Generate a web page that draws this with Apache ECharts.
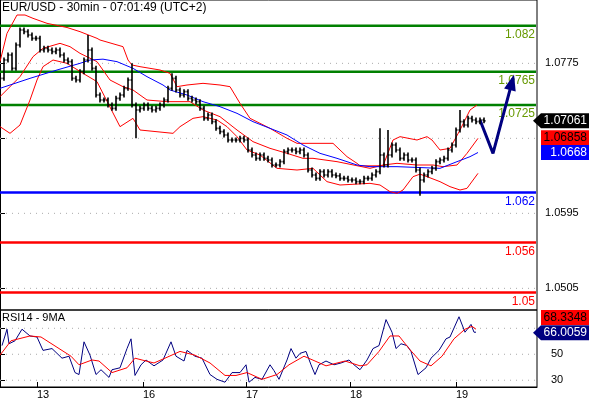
<!DOCTYPE html>
<html>
<head>
<meta charset="UTF-8">
<title>EUR/USD</title>
<script src="https://cdn.jsdelivr.net/npm/echarts@6/dist/echarts.min.js"></script>
<style>
    html, body { margin: 0; padding: 0; background: #fff; }
    #main { width: 589px; height: 400px; }
</style>
</head>
<body>
<div id="main"></div>
<script>
    // closes, one bar per slot (x axis unit = slot)
    var closes = [
        1.0757, 1.0779, 1.0785, 1.0769, 1.0797, 1.0815, 1.0813, 1.0809, 1.0805, 1.0805,
        1.0791, 1.0793, 1.0791, 1.0789, 1.0791, 1.0785, 1.0779, 1.0777, 1.0757, 1.0755,
        1.0765, 1.0779, 1.0791, 1.0769, 1.0737, 1.0731, 1.0731, 1.0725, 1.0721, 1.0733,
        1.0737, 1.0745, 1.0755, 1.0725, 1.0719, 1.0721, 1.0725, 1.0721, 1.0719, 1.0721,
        1.0725, 1.0731, 1.0745, 1.0757, 1.0743, 1.0737, 1.0741, 1.0733, 1.0731, 1.0729,
        1.0721, 1.0709, 1.0713, 1.0705, 1.0697, 1.0693, 1.0689, 1.0683, 1.0683, 1.0683,
        1.0685, 1.0683, 1.0671, 1.0665, 1.0661, 1.0665, 1.0661, 1.0659, 1.0653, 1.0653,
        1.0657, 1.0669, 1.0671, 1.0671, 1.0669, 1.0671, 1.0665, 1.0647, 1.0641, 1.0637,
        1.0645, 1.0641, 1.0645, 1.0641, 1.0640, 1.0637, 1.0637, 1.0635, 1.0635, 1.0633,
        1.0633, 1.0637, 1.0637, 1.0641, 1.0645, 1.0665, 1.0653, 1.0665, 1.0677, 1.0671,
        1.0661, 1.0665, 1.0659, 1.0659, 1.0647, 1.0635, 1.0641, 1.0645, 1.0649, 1.0657,
        1.0659, 1.0661, 1.0671, 1.0677, 1.0695, 1.0705, 1.0701, 1.0709, 1.0707, 1.0705,
        1.0707, 1.0706
    ];
    var wick = 0.0003;
    var spikes = [[22, 'h', 1.0809], [33, 'h', 1.0775], [34, 'l', 1.0685], [43, 'h', 1.0763],
                  [95, 'h', 1.0697], [97, 'h', 1.0695], [105, 'l', 1.0616], [115, 'h', 1.0719]];

    // bollinger bands and average, [slot, price]
    var bandUpper = [[0, 1.0777], [1.75, 1.0811], [4.25, 1.0833], [6.25, 1.0833], [8.25, 1.0829], [11.75, 1.0823],
        [16.75, 1.0818], [20, 1.0813], [24.25, 1.0805], [25, 1.0803], [30.75, 1.0795], [32, 1.0779], [33, 1.0773],
        [35, 1.0771], [40, 1.0767], [42.5, 1.0763], [44.25, 1.0747], [46.75, 1.0749], [50.75, 1.0751], [55, 1.0749],
        [57.5, 1.0747], [60, 1.0727], [62.5, 1.0709], [67.5, 1.0697], [71.75, 1.0685], [74.25, 1.0679], [79.25, 1.0679],
        [83.25, 1.0679], [86.75, 1.0663], [89.25, 1.0655], [90, 1.0652], [95.75, 1.0652], [98.25, 1.0683], [100, 1.0687],
        [104.25, 1.0683], [106.75, 1.0687], [108, 1.0683], [110, 1.0671], [112.5, 1.0673], [115, 1.0695], [117.5, 1.0719],
        [119.25, 1.0725]];
    var bandMiddle = [[0, 1.0735], [5, 1.0759], [8.25, 1.0783], [10.75, 1.0793], [15, 1.0799], [17.5, 1.0795],
        [20, 1.0787], [24.25, 1.0777], [27.5, 1.0755], [30.75, 1.0747], [33.25, 1.0743], [36.75, 1.0731], [41.75, 1.0729],
        [47.5, 1.0729], [50.75, 1.0719], [55, 1.0711], [59.25, 1.0695], [63.25, 1.0681], [67.5, 1.0673], [71.75, 1.0667],
        [75.75, 1.0661], [78.25, 1.0661], [84.25, 1.0657], [92.5, 1.0649], [95.75, 1.0653], [99.25, 1.0655],
        [104.25, 1.0653], [108.25, 1.0653], [110.75, 1.0651], [114.25, 1.0653], [116.75, 1.0667], [119.5, 1.0685]];
    var bandLower = [[0, 1.0699], [2.5, 1.0691], [5, 1.0701], [7.5, 1.0731], [9.25, 1.0755], [10.75, 1.0771],
        [13.25, 1.0779], [16.75, 1.0775], [20.75, 1.0763], [24.25, 1.0753], [30, 1.0699], [33.25, 1.0709], [35, 1.0695],
        [43.25, 1.0691], [45, 1.0699], [48.25, 1.0709], [50.75, 1.0711], [54.25, 1.0707], [56.75, 1.0699],
        [59.25, 1.0687], [61.75, 1.0671], [65, 1.0665], [69.25, 1.0649], [74.25, 1.0647], [78.25, 1.0649],
        [81.75, 1.0633], [85, 1.0629], [92.5, 1.0631], [95, 1.0629], [97.5, 1.0621], [99.25, 1.0619], [100.75, 1.0623],
        [103.25, 1.0639], [105, 1.0642], [106.75, 1.0639], [110, 1.0633], [112.5, 1.0627], [115, 1.0623],
        [116.75, 1.0625], [119.5, 1.0643]];
    var maLong = [[0, 1.0745], [7.5, 1.0757], [14.25, 1.0767], [20, 1.0775], [22.5, 1.0779], [25.75, 1.0780],
        [29.25, 1.0777], [33.25, 1.0769], [36.75, 1.0759], [40.75, 1.0749], [42.5, 1.0743], [46.75, 1.0737],
        [50.75, 1.0729], [55, 1.0723], [59.25, 1.0715], [63.25, 1.0705], [67.5, 1.0697], [71.75, 1.0689],
        [75.75, 1.0677], [80, 1.0667], [84.25, 1.0661], [89.25, 1.0653], [92.5, 1.0651], [99.25, 1.0651],
        [110, 1.0649], [114.25, 1.0657], [117.5, 1.0663], [119.5, 1.0668]];
    var forecast = [[120, 1.0707], [123.25, 1.0667], [128.25, 1.0757]];

    var levelValues = [1.082, 1.0765, 1.0725, 1.062, 1.056, 1.05];
    var levelLabels = ['1.082', '1.0765', '1.0725', '1.062', '1.056', '1.05'];
    var levelColors = ['#008000', '#008000', '#008000', '#0000ff', '#ff0000', '#ff0000'];
    var labelColors = ['#669900', '#669900', '#669900', '#0000ff', '#ff0000', '#ff0000'];
    var priceTicks = [1.0505, 1.0595, 1.0685, 1.0775];
    var priceLabels = [1.0505, 1.0595, 1.0775];

    // RSI14 and its 9 period average, [slot, value]
    var rsi = [[0.5, 56.7], [1.75, 69.3], [2.25, 58.1], [3.75, 60.4], [5.5, 69.3], [7.5, 64.1], [9.25, 63.3],
        [10.75, 53], [13, 54.4], [15.5, 47], [17.25, 48.5], [18.75, 35.9], [19.75, 34.4], [21, 59.6], [22.5, 49.3],
        [24, 34.4], [25.25, 38.1], [27.25, 32.2], [28, 38.1], [30, 39.6], [31.75, 54.4], [32.75, 61.9], [33.75, 33.7],
        [35.25, 41.9], [36.5, 45.6], [38.5, 41.1], [40.75, 45.6], [42.75, 59.6], [44, 48.5], [46, 44.8], [46.75, 53],
        [48.75, 48.5], [50.5, 47], [52.5, 34.4], [54.25, 30.7], [56.25, 28.5], [58, 35.9], [60, 35.9], [61.5, 41.9],
        [62.25, 28.5], [63.75, 32.2], [65.5, 30.7], [67.5, 41.9], [68.5, 37.4], [69.75, 30.7], [71.75, 45.6],
        [72.75, 54.4], [74, 47], [75, 50.7], [76.5, 52.2], [77.75, 41.9], [78.75, 34.4], [79.75, 41.9], [81.5, 44.8],
        [83.5, 41.9], [85.25, 43.3], [87.25, 45.6], [88.5, 41.9], [90, 38.1], [91.75, 45.6], [93.25, 54.4],
        [94.75, 56.7], [96.5, 76.7], [98, 67], [99, 54.4], [100.25, 58.1], [101.75, 56.7], [102.75, 52.2],
        [104.5, 34.4], [106.5, 39.6], [107.75, 47], [109.75, 53], [111.5, 61.9], [112.5, 63.3], [114.75, 78.9],
        [116.25, 67], [117.75, 73], [118.5, 67], [119, 67]];
    var rsiMa = [[0, 49.3], [2.75, 60.4], [7.5, 64.1], [10.25, 63.3], [14, 55.9], [17.75, 48.5], [19.75, 41.9],
        [23, 45.6], [24.75, 44.8], [28, 35.9], [31.75, 39.6], [33.75, 47], [36.5, 44.8], [38.5, 43.3], [41.25, 47],
        [45, 52.2], [48.75, 49.3], [52.5, 43.3], [56.25, 33.7], [59, 33.7], [61.75, 35.9], [65.5, 30.7], [69.25, 34.4],
        [72.25, 41.9], [76, 48.5], [78.75, 44.8], [81.5, 41.1], [86.25, 44.8], [90, 41.1], [91.75, 41.9], [94.75, 52.2],
        [97.5, 64.1], [99.75, 64.1], [102.25, 54.4], [105, 44.8], [107.75, 41.1], [110.5, 48.5], [113.5, 61.9],
        [116.25, 69.3], [118, 71.5], [119, 69.3]];
    var rsiTicks = [30, 50, 70];
    var rsiLabels = [30, 50];

    var days = ['13', '16', '17', '18', '19'];
    var dayPos = [9.25, 35.75, 61.5, 87.5, 114];

    var bars = closes.map(function (c, i) {
        var o = i > 0 ? closes[i - 1] : c;
        var h = Math.max(o, c) + wick, l = Math.min(o, c) - wick;
        spikes.forEach(function (s) {
            if (s[0] === i) { if (s[1] === 'h') h = s[2]; else l = s[2]; }
        });
        return [i, o, h, l, c];
    });

    var chart = echarts.init(document.getElementById('main'));
    var font = 'Liberation Sans, Arial, sans-serif';

    function line(data, color, xi, w) {
        return {
            type: 'line', data: data, xAxisIndex: xi, yAxisIndex: xi, symbol: 'none',
            lineStyle: { color: color, width: w || 1 }, silent: true, z: 3
        };
    }

    var option = {
        animation: false,
        grid: [
            { left: 0, right: 52, top: 0, height: 310, show: true, borderColor: '#000', borderWidth: 1 },
            { left: 0, right: 52, top: 310, height: 80, show: true, borderColor: '#000', borderWidth: 1 }
        ],
        xAxis: [
            { type: 'value', gridIndex: 0, min: 0, max: 134.25, show: false },
            { type: 'value', gridIndex: 1, min: 0, max: 134.25, splitLine: { show: false },
              axisLine: { lineStyle: { color: '#000' } },
              axisTick: { customValues: dayPos, inside: true, length: 5, lineStyle: { color: '#000' } },
              axisLabel: { customValues: dayPos, formatter: function (v) { return days[dayPos.indexOf(v)]; },
                           color: '#000', fontSize: 11, fontFamily: font, margin: 2, align: 'left' } }
        ],
        yAxis: [
            { type: 'value', gridIndex: 0, position: 'right', min: 1.0479, max: 1.0851, splitLine: { show: false },
              axisLine: { show: true, lineStyle: { color: '#000' } },
              axisTick: { customValues: priceTicks, length: 5, lineStyle: { color: '#000' } },
              axisLabel: { customValues: priceLabels, formatter: function (v) { return v.toFixed(4); },
                           color: '#000', fontSize: 11, fontFamily: font, margin: 8 } },
            { type: 'value', gridIndex: 1, position: 'right', min: 24.8, max: 84.1, splitLine: { show: false },
              axisLine: { show: true, lineStyle: { color: '#000' } },
              axisTick: { customValues: rsiTicks, length: 5, lineStyle: { color: '#000' } },
              axisLabel: { customValues: rsiLabels, color: '#000', fontSize: 11, fontFamily: font, margin: 14 } }
        ],
        series: [
            line(bandUpper, '#ff0000', 0),
            line(bandMiddle, '#ff0000', 0),
            line(bandLower, '#ff0000', 0),
            line(maLong, '#0000ff', 0),
            {
                type: 'custom', xAxisIndex: 0, yAxisIndex: 0, data: bars, z: 4,
                encode: { x: 0, y: [1, 2, 3, 4] },
                renderItem: function (params, api) {
                    var x = api.value(0);
                    var po = api.coord([x, api.value(1)]), ph = api.coord([x, api.value(2)]);
                    var pl = api.coord([x, api.value(3)]), pc = api.coord([x, api.value(4)]);
                    var st = { stroke: '#000', lineWidth: 1.6 };
                    return { type: 'group', children: [
                        { type: 'line', shape: { x1: ph[0], y1: ph[1], x2: pl[0], y2: pl[1] }, style: st },
                        { type: 'line', shape: { x1: po[0] - 1.5, y1: po[1], x2: po[0], y2: po[1] }, style: st },
                        { type: 'line', shape: { x1: pc[0], y1: pc[1], x2: pc[0] + 1.5, y2: pc[1] }, style: st }
                    ] };
                }
            },
            line(forecast, '#000080', 0, 3),
            line(rsi, '#000080', 1),
            line(rsiMa, '#ff0000', 1)
        ]
    };
    chart.setOption(option);

    var g = [];
    // dotted grid at the tick values
    function dots(gi, values) {
        values.forEach(function (v) {
            var p0 = chart.convertToPixel({ gridIndex: gi }, [0, v]);
            var p1 = chart.convertToPixel({ gridIndex: gi }, [134.25, v]);
            g.push({ type: 'line', shape: { x1: p0[0], y1: p0[1], x2: p1[0], y2: p1[1] },
                     style: { stroke: '#aaa', lineWidth: 1, lineDash: [1, 5] }, z: 1 });
        });
    }
    dots(0, priceTicks);
    dots(1, rsiTicks);

    // horizontal support / resistance levels
    levelValues.forEach(function (v, i) {
        var p0 = chart.convertToPixel({ gridIndex: 0 }, [0, v]);
        var p1 = chart.convertToPixel({ gridIndex: 0 }, [134.25, v]);
        g.push({ type: 'line', shape: { x1: p0[0], y1: p0[1], x2: p1[0] - 1, y2: p1[1] },
                 style: { stroke: levelColors[i], lineWidth: 2.5 }, z: 2 });
        g.push({ type: 'text', x: p1[0] - 2, y: p1[1] + 3,
                 style: { text: levelLabels[i], fill: labelColors[i], font: '12px ' + font, align: 'right',
                          verticalAlign: 'top' }, z: 2 });
    });

    // arrow head at the end of the forecast line
    var a = chart.convertToPixel({ gridIndex: 0 }, forecast[1]);
    var b = chart.convertToPixel({ gridIndex: 0 }, forecast[2]);
    var ang = Math.atan2(b[1] - a[1], b[0] - a[0]);
    function rot(dx, dy) {
        return [b[0] + dx * Math.cos(ang) - dy * Math.sin(ang), b[1] + dx * Math.sin(ang) + dy * Math.cos(ang)];
    }
    g.push({ type: 'polygon', shape: { points: [rot(4, 0), rot(-12, -6), rot(-12, 6)] },
             style: { fill: '#000080' }, z: 6 });

    function badge(gi, value, text, bg, fg, arrow) {
        var p = chart.convertToPixel({ gridIndex: gi }, [134.25, value]);
        var items = [{
            type: 'rect', shape: { x: 541, y: p[1] - 7.5, width: 48, height: 15 }, style: { fill: bg }, z: 10
        }, {
            type: 'text', x: 587, y: p[1], style: { text: text, fill: fg, font: '12px ' + font,
                align: 'right', verticalAlign: 'middle' }, z: 11
        }];
        if (arrow) {
            items.push({ type: 'polygon', shape: { points: [[533, p[1]], [541, p[1] - 7.5], [541, p[1] + 7.5]] },
                         style: { fill: bg }, z: 10 });
        }
        return items;
    }

    g.push({ type: 'text', left: 2, top: 2, style: { text: 'EUR/USD - 30min - 07:01:49 (UTC+2)', fill: '#000', font: '12px ' + font } });
    g.push({ type: 'text', left: 2, top: 312, style: { text: 'RSI14 - 9MA', fill: '#000', font: '11px ' + font } });
    g = g.concat(badge(0, 1.07061, '1.07061', '#000', '#fff', true));
    g = g.concat(badge(0, 1.06858, '1.06858', '#ff0000', '#000', false));
    g = g.concat(badge(0, 1.0668, '1.0668', '#0000ff', '#fff', false));
    g = g.concat(badge(1, 78.4, '68.3348', '#ff0000', '#000', false));
    g = g.concat(badge(1, 66.6, '66.0059', '#000080', '#fff', true));
    chart.setOption({ graphic: g });
</script>
</body>
</html>
